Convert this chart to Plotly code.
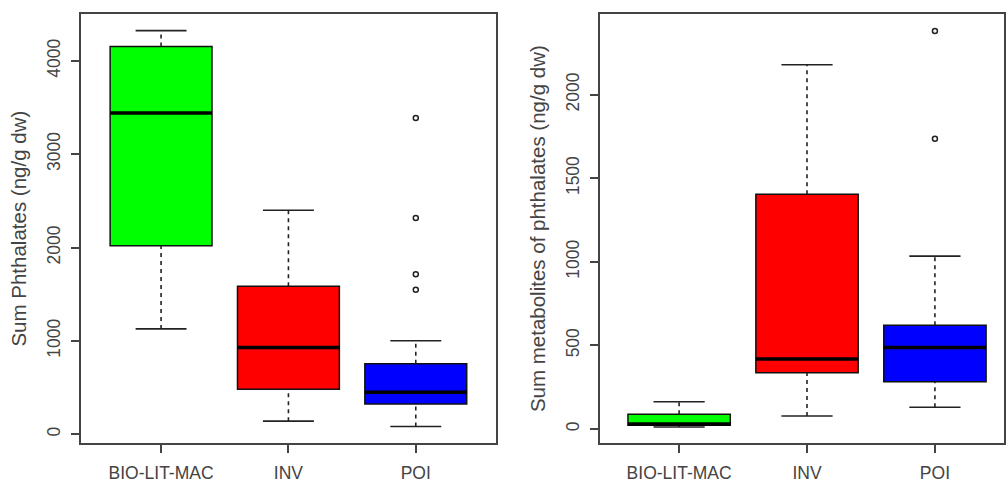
import plotly.graph_objects as go

categories = ["BIO-LIT-MAC", "INV", "POI"]
positions = [1, 2, 3]
colors = ["#00FF00", "#FF0000", "#0000FF"]

# Left panel: Sum Phthalates (ng/g dw)
left_lower = [1129, 141, 84]
left_q1 = [2020, 482, 324]
left_median = [3441, 929, 451]
left_q3 = [4155, 1587, 757]
left_upper = [4324, 2400, 1003]
left_outliers = [[], [], [3388, 2316, 1714, 1548]]

# Right panel: Sum metabolites of phthalates (ng/g dw)
right_lower = [12, 77, 130]
right_q1 = [22, 336, 283]
right_median = [30, 419, 487]
right_q3 = [88, 1404, 621]
right_upper = [163, 2179, 1034]
right_outliers = [[], [], [2381, 1736]]

left_ticks = [0, 1000, 2000, 3000, 4000]
right_ticks = [0, 500, 1000, 1500, 2000]

BOX_W = 0.8
CAP_W = 0.4
FRAME = "#444444"
TEXT = "#444444"
FONT = "Liberation Sans, Arial, sans-serif"

fig = go.Figure()


def add_panel(xa, ya, lower, q1, med, q3, upper, outl):
    for i, cat in enumerate(categories):
        p = positions[i]
        fig.add_trace(go.Box(
            x=[p], q1=[q1[i]], median=[med[i]], q3=[q3[i]],
            lowerfence=[q1[i]], upperfence=[q3[i]],
            width=BOX_W, whiskerwidth=0, fillcolor=colors[i],
            line=dict(color="#111111", width=1.5),
            boxpoints=False, showlegend=False, name=cat,
            xaxis=xa, yaxis=ya, hoverinfo="skip"))
    # whiskers (dashed)
    wx, wy = [], []
    for i in range(3):
        p = positions[i]
        wx += [p, p, None, p, p, None]
        wy += [q3[i], upper[i], None, lower[i], q1[i], None]
    fig.add_trace(go.Scatter(x=wx, y=wy, mode="lines",
                             line=dict(color="#222222", width=1.6, dash="4px,4px"),
                             showlegend=False, xaxis=xa, yaxis=ya, hoverinfo="skip"))
    # caps
    cx, cy = [], []
    for i in range(3):
        p = positions[i]
        cx += [p - CAP_W / 2, p + CAP_W / 2, None, p - CAP_W / 2, p + CAP_W / 2, None]
        cy += [upper[i], upper[i], None, lower[i], lower[i], None]
    fig.add_trace(go.Scatter(x=cx, y=cy, mode="lines",
                             line=dict(color="#222222", width=1.6),
                             showlegend=False, xaxis=xa, yaxis=ya, hoverinfo="skip"))
    # medians (thick)
    mx, my = [], []
    for i in range(3):
        p = positions[i]
        mx += [p - BOX_W / 2, p + BOX_W / 2, None]
        my += [med[i], med[i], None]
    fig.add_trace(go.Scatter(x=mx, y=my, mode="lines",
                             line=dict(color="#000000", width=3.5),
                             showlegend=False, xaxis=xa, yaxis=ya, hoverinfo="skip"))
    # outliers
    ox, oy = [], []
    for i in range(3):
        for v in outl[i]:
            ox.append(positions[i])
            oy.append(v)
    fig.add_trace(go.Scatter(x=ox, y=oy, mode="markers",
                             marker=dict(symbol="circle-open", size=5,
                                         color="#222222", line=dict(width=1.5)),
                             showlegend=False, xaxis=xa, yaxis=ya, hoverinfo="skip"))


add_panel("x", "y", left_lower, left_q1, left_median, left_q3, left_upper, left_outliers)
add_panel("x2", "y2", right_lower, right_q1, right_median, right_q3, right_upper, right_outliers)

common_x = dict(tickvals=positions, ticktext=categories, ticks="outside", ticklen=8,
                tickwidth=1.5, tickcolor=FRAME, showline=True, mirror=True,
                linecolor=FRAME, linewidth=1.8, showgrid=False, zeroline=False,
                tickfont=dict(size=17.5, color=TEXT, family=FONT), ticklabelstandoff=5)
common_y = dict(ticks="outside", ticklen=8, tickwidth=1.5, tickcolor=FRAME,
                showline=True, mirror=True, linecolor=FRAME, linewidth=1.8,
                showgrid=False, zeroline=False, tickangle=-90,
                tickfont=dict(size=17.5, color=TEXT, family=FONT), ticklabelstandoff=4)

fig.update_layout(
    width=1006, height=483,
    margin=dict(l=0, r=0, t=0, b=0),
    paper_bgcolor="white", plot_bgcolor="white",
    font=dict(family=FONT, color=TEXT),
    xaxis=dict(domain=[81 / 1006, 497 / 1006], range=[0.37, 3.63], anchor="y", **common_x),
    yaxis=dict(domain=[33 / 483, 469 / 483], range=[-98, 4504], tickvals=left_ticks,
               anchor="x",
               title=dict(text="Sum Phthalates (ng/g dw)", font=dict(size=20.5, color=TEXT, family=FONT),
                          standoff=12),
               **common_y),
    xaxis2=dict(domain=[601 / 1006, 1.0], range=[0.38, 3.54], anchor="y2", **common_x),
    yaxis2=dict(domain=[33 / 483, 469 / 483], range=[-87, 2484], tickvals=right_ticks,
                anchor="x2",
                title=dict(text="Sum metabolites of phthalates (ng/g dw)",
                           font=dict(size=20.5, color=TEXT, family=FONT), standoff=12),
                **common_y),
)

fig.write_html("out.html")
